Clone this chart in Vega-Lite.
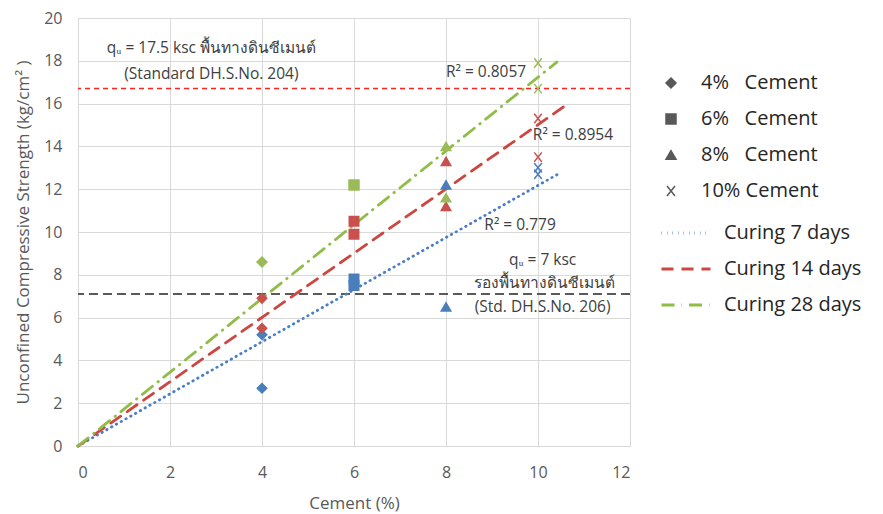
{
  "$schema": "https://vega.github.io/schema/vega-lite/v6.json",
  "width": 552,
  "height": 428,
  "autosize": "none",
  "padding": {"left": 78, "top": 18, "right": 253, "bottom": 68},
  "background": "white",
  "config": {
    "font": "Open Sans",
    "view": {"stroke": null},
    "axis": {
      "grid": true,
      "gridColor": "#d9d9d9",
      "gridWidth": 1,
      "domainColor": "#d9d9d9",
      "ticks": false,
      "labelFont": "Open Sans",
      "labelFontSize": 16,
      "labelColor": "#595959",
      "titleFont": "Open Sans",
      "titleFontSize": 17,
      "titleFontWeight": "normal",
      "titleColor": "#595959"
    },
    "legend": {
      "labelFont": "Open Sans",
      "labelFontSize": 20,
      "labelColor": "#262626"
    }
  },
  "layer": [
    {
      "data": {"values": [{"level": 16.7}]},
      "mark": {"type": "rule", "color": "#ff2020", "strokeWidth": 1.5, "strokeDash": [5, 4]},
      "encoding": {"y": {"field": "level", "type": "quantitative"}}
    },
    {
      "data": {"values": [{"level": 7.1}]},
      "mark": {"type": "rule", "color": "#5a5a5a", "strokeWidth": 2, "strokeDash": [9, 5]},
      "encoding": {"y": {"field": "level", "type": "quantitative"}}
    },
    {
      "data": {"values": [
        {"Cement": 0, "UCS": 0, "Curing": "Curing 7 days"},
        {"Cement": 10.48, "UCS": 12.76, "Curing": "Curing 7 days"},
        {"Cement": 0, "UCS": 0, "Curing": "Curing 14 days"},
        {"Cement": 10.59, "UCS": 15.9, "Curing": "Curing 14 days"},
        {"Cement": 0, "UCS": 0, "Curing": "Curing 28 days"},
        {"Cement": 10.41, "UCS": 17.94, "Curing": "Curing 28 days"}
      ]},
      "mark": {"type": "line", "strokeWidth": 2.8, "strokeCap": "round"},
      "encoding": {
        "x": {"field": "Cement", "type": "quantitative", "scale": {"domain": [0, 12]}, "axis": {"values": [0, 2, 4, 6, 8, 10, 12], "title": "Cement (%)", "labelPadding": 18, "titlePadding": 15}},
        "y": {"field": "UCS", "type": "quantitative", "scale": {"domain": [0, 20]}, "axis": {"values": [0, 2, 4, 6, 8, 10, 12, 14, 16, 18, 20], "title": "Unconfined Compressive Strength (kg/cm² )", "labelPadding": 16, "titlePadding": 11}},
        "color": {"field": "Curing", "type": "nominal",
          "scale": {"domain": ["Curing 7 days", "Curing 14 days", "Curing 28 days"], "range": ["#4a7fc6", "#cc4742", "#8fbd48"]},
          "legend": {"title": null, "orient": "none", "legendX": 582, "legendY": 189, "symbolType": "stroke", "symbolSize": 2400, "symbolStrokeWidth": 3, "labelOffset": 12, "rowPadding": -1}},
        "strokeDash": {"field": "Curing", "type": "nominal",
          "scale": {"domain": ["Curing 7 days", "Curing 14 days", "Curing 28 days"], "range": [[0.5, 5], [12, 8], [13, 7, 0.5, 7]]},
          "legend": {"title": null, "orient": "none", "legendX": 582, "legendY": 189, "symbolType": "stroke", "symbolSize": 2400, "symbolStrokeWidth": 3, "labelOffset": 12, "rowPadding": -1}}
      }
    },
    {
      "data": {"values": [
        {"Cement": 4, "UCS": 5.2, "Curing": "Curing 7 days"},
        {"Cement": 4, "UCS": 2.7, "Curing": "Curing 7 days"},
        {"Cement": 4, "UCS": 6.9, "Curing": "Curing 14 days"},
        {"Cement": 4, "UCS": 5.5, "Curing": "Curing 14 days"},
        {"Cement": 4, "UCS": 8.6, "Curing": "Curing 28 days"},
        {"Cement": 4, "UCS": 8.6, "Curing": "Curing 28 days"},
        {"Cement": 6, "UCS": 7.8, "Curing": "Curing 7 days"},
        {"Cement": 6, "UCS": 7.5, "Curing": "Curing 7 days"},
        {"Cement": 6, "UCS": 10.5, "Curing": "Curing 14 days"},
        {"Cement": 6, "UCS": 9.9, "Curing": "Curing 14 days"},
        {"Cement": 6, "UCS": 12.2, "Curing": "Curing 28 days"},
        {"Cement": 6, "UCS": 12.2, "Curing": "Curing 28 days"},
        {"Cement": 8, "UCS": 12.2, "Curing": "Curing 7 days"},
        {"Cement": 8, "UCS": 6.5, "Curing": "Curing 7 days"},
        {"Cement": 8, "UCS": 13.3, "Curing": "Curing 14 days"},
        {"Cement": 8, "UCS": 11.2, "Curing": "Curing 14 days"},
        {"Cement": 8, "UCS": 14.0, "Curing": "Curing 28 days"},
        {"Cement": 8, "UCS": 11.6, "Curing": "Curing 28 days"},
        {"Cement": 10, "UCS": 13.0, "Curing": "Curing 7 days"},
        {"Cement": 10, "UCS": 12.7, "Curing": "Curing 7 days"},
        {"Cement": 10, "UCS": 15.3, "Curing": "Curing 14 days"},
        {"Cement": 10, "UCS": 13.5, "Curing": "Curing 14 days"},
        {"Cement": 10, "UCS": 17.9, "Curing": "Curing 28 days"},
        {"Cement": 10, "UCS": 16.7, "Curing": "Curing 28 days"}
      ]},
      "mark": {"type": "point", "filled": true, "opacity": 1, "size": 90, "strokeWidth": 1.5},
      "encoding": {
        "x": {"field": "Cement", "type": "quantitative"},
        "y": {"field": "UCS", "type": "quantitative"},
        "fill": {"field": "Curing", "type": "nominal", "legend": null,
          "scale": {"domain": ["Curing 7 days", "Curing 14 days", "Curing 28 days"], "range": ["#4a7ebb", "#c9504d", "#9bbb59"]}},
        "stroke": {"field": "Curing", "type": "nominal", "legend": null,
          "scale": {"domain": ["Curing 7 days", "Curing 14 days", "Curing 28 days"], "range": ["#4a7ebb", "#c9504d", "#9bbb59"]}},
        "shape": {"field": "Cement", "type": "nominal",
          "scale": {"domain": [4, 6, 8, 10], "range": ["diamond", "square", "triangle-up", "M-0.8,-1L0.8,1M0.8,-1L-0.8,1"]},
          "legend": {"title": null, "orient": "none", "legendX": 583, "legendY": 55, "symbolSize": 100, "symbolFillColor": "#595959", "symbolStrokeColor": "#595959", "symbolStrokeWidth": 1.5, "labelOffset": 20, "rowPadding": 16,
            "labelExpr": "datum.label == '10' ? '10% Cement' : datum.label + '%\u00a0\u00a0\u00a0Cement'"}}
      }
    },
    {
      "data": {"values": [
        {"x": 2.9, "y": 18.6, "text": "qᵤ = 17.5 ksc พื้นทางดินซีเมนต์"},
        {"x": 2.9, "y": 17.4, "text": "(Standard DH.S.No. 204)"},
        {"x": 8.87, "y": 17.48, "text": "R² = 0.8057"},
        {"x": 10.76, "y": 14.53, "text": "R² = 0.8954"},
        {"x": 9.61, "y": 10.33, "text": "R² = 0.779"},
        {"x": 10.1, "y": 8.69, "text": "qᵤ = 7 ksc"},
        {"x": 10.15, "y": 7.62, "text": "รองพื้นทางดินซีเมนต์"},
        {"x": 10.1, "y": 6.5, "text": "(Std. DH.S.No. 206)"}
      ]},
      "mark": {"type": "text", "fontSize": 15.5, "color": "#404040", "font": "Open Sans"},
      "encoding": {
        "x": {"field": "x", "type": "quantitative"},
        "y": {"field": "y", "type": "quantitative"},
        "text": {"field": "text"}
      }
    }
  ]
}
